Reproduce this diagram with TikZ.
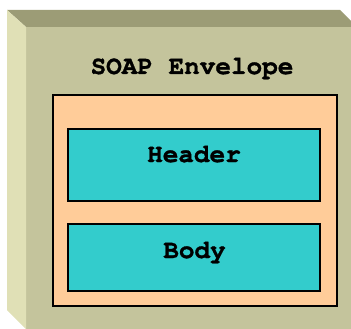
\documentclass[tikz,border=0pt]{standalone}
\usepackage{fontspec}
\newfontfamily\slabmono[BoldFeatures={FakeBold=1.2}]{TeX Gyre Cursor}
\definecolor{envfront}{HTML}{C4C49C}
\definecolor{envtop}{HTML}{9C9C76}
\definecolor{envleft}{HTML}{E0E0B6}
\definecolor{partfill}{HTML}{FFCC99}
\definecolor{blockfill}{HTML}{33CCCC}
\tikzset{
  label text/.style={anchor=base, inner sep=0pt, font=\slabmono\bfseries\fontsize{26}{30}\selectfont},
  outer box/.style={draw=black, line width=1.6pt, fill=partfill},
  inner box/.style={draw=black, line width=1.4pt, fill=blockfill},
}
\begin{document}
\begin{tikzpicture}[x=1pt,y=-1pt]
  \useasboundingbox (0,0) rectangle (351,329);
  \begin{scope}
    \clip (0,0) rectangle (351,329);
    % bevelled envelope slab
    \fill[envfront] (26,27) rectangle (360,340);
    \fill[envtop] (7,10) -- (340,10) -- (357,27) -- (26,27) -- cycle;
    \fill[envleft] (7,10) -- (26,27) -- (26,329) -- (7,310) -- cycle;
  \end{scope}
  \node[label text] (title) at (192,74) {SOAP Envelope};
  % message parts
  \draw[outer box] (53,95) rectangle (337,306);
  \draw[inner box] (68,129) rectangle (320,201);
  \draw[inner box] (68,224) rectangle (320,291);
  \node[label text] (header) at (194,162) {Header};
  \node[label text] (body) at (194.5,258) {Body};
\end{tikzpicture}
\end{document}
